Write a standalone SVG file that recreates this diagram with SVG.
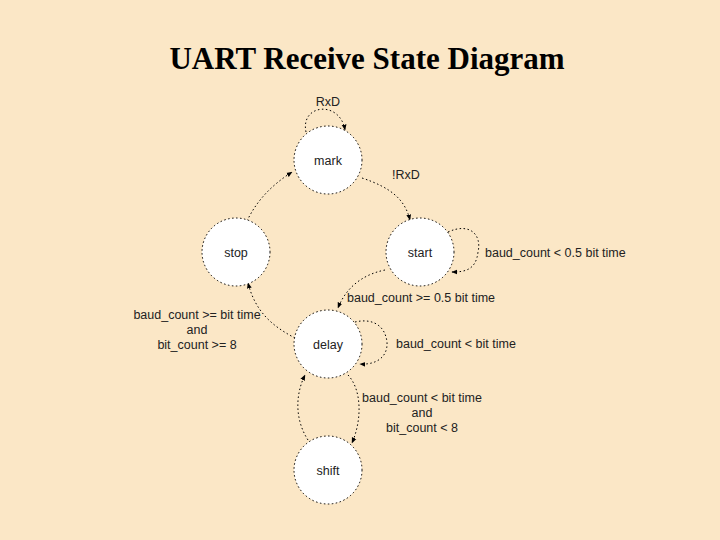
<svg xmlns="http://www.w3.org/2000/svg" width="720" height="540" viewBox="0 0 720 540">
<defs>
<marker id="ah" viewBox="0 0 10 10" refX="9" refY="5" markerWidth="6" markerHeight="6" orient="auto"><path d="M0,1 L10,5 L0,9 z" fill="#000"/></marker>
</defs>
<style>
.n{fill:#fff;stroke:#000;stroke-width:1;stroke-dasharray:1.5 2.5}
.c{fill:none;stroke:#000;stroke-width:1;stroke-dasharray:1.5 2.5;marker-end:url(#ah)}
text{font-family:"Liberation Sans",Arial,sans-serif;font-size:12.5px;fill:#222}
.t{text-anchor:middle}
</style>
<rect width="720" height="540" fill="#FBE7C6"/>
<text x="367" y="69" style="font-family:'Liberation Serif','Times New Roman',serif;font-size:31px;font-weight:bold;fill:#000" text-anchor="middle">UART Receive State Diagram</text>
<g id="connectors">
<path class="c" d="M306,132 C300,104 340,100 345,130"/>
<path class="c" d="M362,178 C392,188 405,200 410,220"/>
<path class="c" d="M448,232 C470,222 482,235 478,252 C476,270 465,272 452,272"/>
<path class="c" d="M385,270 C360,275 345,290 338,308"/>
<path class="c" d="M355,322 C372,318 385,325 387,342 C388,358 375,365 360,364"/>
<path class="c" d="M295,338 C270,325 255,310 248,283"/>
<path class="c" d="M247,221 C257,200 272,185 292,172"/>
<path class="c" d="M348,375 C362,390 362,420 352,443"/>
<path class="c" d="M308,440 C295,420 295,395 305,375"/>
</g>
<g id="mark"><circle class="n" cx="328" cy="160" r="34"/><text class="t" x="328" y="165">mark</text></g>
<g id="stop"><circle class="n" cx="236" cy="252" r="34"/><text class="t" x="236" y="257">stop</text></g>
<g id="start"><circle class="n" cx="420" cy="252" r="34"/><text class="t" x="420" y="257">start</text></g>
<g id="delay"><circle class="n" cx="328" cy="344" r="34"/><text class="t" x="328" y="349">delay</text></g>
<g id="shift"><circle class="n" cx="328" cy="470" r="34"/><text class="t" x="328" y="475">shift</text></g>
<g id="labels">
<text class="t" x="328" y="106">RxD</text>
<text x="392" y="179">!RxD</text>
<text x="485" y="257">baud_count &lt; 0.5 bit time</text>
<text x="347" y="302">baud_count &gt;= 0.5 bit time</text>
<text class="t" x="197" y="319">baud_count &gt;= bit time</text>
<text class="t" x="197" y="334">and</text>
<text class="t" x="197" y="349">bit_count &gt;= 8</text>
<text x="396" y="348">baud_count &lt; bit time</text>
<text class="t" x="422" y="402">baud_count &lt; bit time</text>
<text class="t" x="422" y="417">and</text>
<text class="t" x="422" y="432">bit_count &lt; 8</text>
</g>
</svg>
